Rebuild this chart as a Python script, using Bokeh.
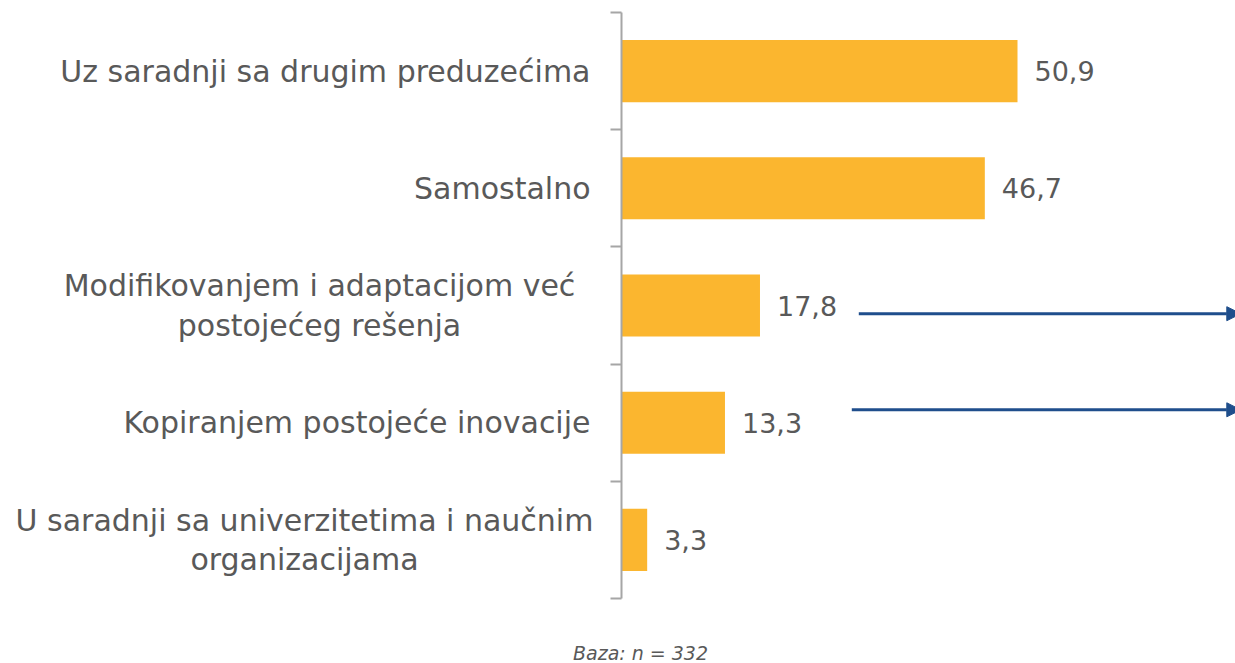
from bokeh.plotting import figure
from bokeh.models import Range1d, FixedTicker, Label, Arrow, NormalHead, CustomJSTickFormatter
from bokeh.embed import file_html
from bokeh.resources import INLINE
from bokeh.core.properties import value

categories = [
    "Uz saradnji sa drugim preduzećima",
    "Samostalno",
    "Modifikovanjem i adaptacijom već\npostojećeg rešenja",
    "Kopiranjem postojeće inovacije",
    "U saradnji sa univerzitetima i naučnim\norganizacijama",
]
values = [50.9, 46.7, 17.8, 13.3, 3.3]
footnote = "Baza: n = 332"

FONT = "DejaVu Sans"
TXT = "#595959"
BAR = "#FBB62F"
AXIS = "#A6A6A6"
BLUE = "#1F4E8C"

n = len(categories)
ypos = [i + 1 for i in range(n)]

p = figure(width=1235, height=663, output_backend="svg", toolbar_location=None,
           x_range=Range1d(-79.82, 78.92), y_range=Range1d(6.0546, 0.3976),
           min_border=0)
p.outline_line_color = None
p.grid.visible = False
p.xaxis.visible = False
p.background_fill_color = None
p.border_fill_color = "white"

ax = p.yaxis[0]
ax.fixed_location = 0
ax.ticker = FixedTicker(ticks=[i + 0.5 for i in range(n + 1)])
ax.bounds = (0.5, n + 0.5)
ax.formatter = CustomJSTickFormatter(code="return ''")
ax.major_tick_out = 11
ax.major_tick_in = 0
ax.minor_tick_line_color = None
ax.axis_line_color = AXIS
ax.axis_line_width = 2
ax.major_tick_line_color = AXIS
ax.major_tick_line_width = 2

p.hbar(y=ypos, left=0, right=values, height=0.53, color=BAR, line_color=None)

vals_txt = [f"{v:.1f}".replace(".", ",") for v in values]
p.text(x=values, y=ypos, text=vals_txt, x_offset=17, text_align="left",
       text_baseline="middle", text_color=TXT, text_font=value(FONT),
       text_font_size="27px")

single_y = [y for y, c in zip(ypos, categories) if "\n" not in c]
single_t = [c for c in categories if "\n" not in c]
multi_y = [y for y, c in zip(ypos, categories) if "\n" in c]
multi_t = [c for c in categories if "\n" in c]

p.text(x=[0] * len(single_y), y=single_y, text=single_t, x_offset=-31,
       text_align="right", text_baseline="middle", text_color=TXT,
       text_font=value(FONT), text_font_size="30px")
p.text(x=[0] * len(multi_y), y=multi_y, text=multi_t, x_offset=[-302, -317],
       text_align="center", text_baseline="middle", text_color=TXT,
       text_font=value(FONT), text_font_size="30px", text_line_height=1.12)

# annotation arrows
for (x0, y0) in [(30.5, 3.07), (29.6, 3.89)]:
    p.add_layout(Arrow(x_start=x0, y_start=y0, x_end=79.6, y_end=y0,
                       line_color=BLUE, line_width=3,
                       end=NormalHead(size=14, fill_color=BLUE, line_color=BLUE)))

p.add_layout(Label(x=640, y=0, x_units="screen", y_units="screen", text=footnote,
                   text_align="center", text_baseline="bottom",
                   text_font=FONT, text_font_style="italic",
                   text_font_size="19px", text_color=TXT))

open("out.html", "w").write(file_html(p, INLINE))
